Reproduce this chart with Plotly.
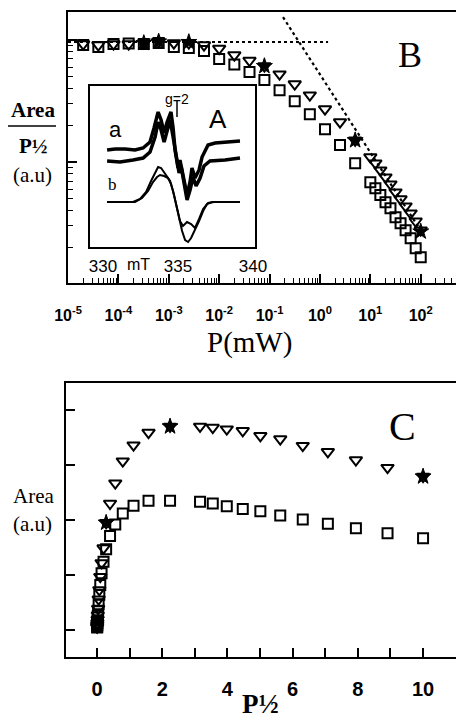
import plotly.graph_objects as go

# ---------------- Panel B : Area / P^1/2 versus P (mW), log-log ----------------
P_mW = [2.0e-5, 4.0e-5, 8.0e-5, 1.6e-4, 3.2e-4, 6.3e-4, 1.26e-3, 2.5e-3, 5.0e-3, 1.0e-2,
        2.0e-2, 4.0e-2, 7.9e-2, 0.158, 0.316, 0.63, 1.26, 2.5, 5.0, 10.0,
        12.6, 15.8, 20.0, 25.1, 31.6, 39.8, 50.1, 63.1, 79.4, 100.0]
B_tri = [9.27, 9.10, 9.27, 9.27, 9.45, 9.72, 9.45, 9.45, 9.10, 8.52,
         7.54, 6.79, 6.12, 5.26, 4.36, 3.54, 2.72, 2.13, 1.51, 1.10,
         0.98, 0.86, 0.753, 0.660, 0.568, 0.498, 0.436, 0.382, 0.328, 0.277]
B_sq = [9.10, 8.76, 9.27, 9.36, 9.27, 9.45, 8.76, 8.60, 8.13, 6.99,
        6.30, 5.47, 4.70, 3.89, 3.16, 2.47, 1.86, 1.38, 0.98, 0.685,
        0.612, 0.537, 0.470, 0.420, 0.354, 0.316, 0.277, 0.238, 0.197, 0.166]
B_star_P = [3.2e-4, 6.3e-4, 2.5e-3, 7.9e-2, 5.0, 100.0]
B_star = [9.45, 9.72, 9.63, 6.12, 1.51, 0.27]
# dotted guide lines
hline_P = [1.0e-5, 1.45]
hline_v = [9.63, 9.63]
sline_P = [0.185, 105.0]
sline_v = [15.4, 0.267]
B_decades = [-5, -4, -3, -2, -1, 0, 1, 2]
B_xlabels = ["10<sup>-5</sup>", "10<sup>-4</sup>", "10<sup>-3</sup>", "10<sup>-2</sup>",
             "10<sup>-1</sup>", "10<sup>0</sup>", "10<sup>1</sup>", "10<sup>2</sup>"]

# ---------------- Panel C : Area versus P^1/2 ----------------
sqrtP = [0.0045, 0.0063, 0.0089, 0.0126, 0.018, 0.025, 0.035, 0.050, 0.071, 0.10,
         0.14, 0.20, 0.28, 0.40, 0.56, 0.79, 1.12, 1.58, 2.24, 3.16,
         3.55, 3.98, 4.47, 5.01, 5.62, 6.31, 7.08, 7.94, 8.91, 10.0]
C_tri = [0.05, 0.07, 0.10, 0.13, 0.19, 0.27, 0.39, 0.56, 0.73, 0.97,
         1.22, 1.49, 1.95, 2.30, 2.67, 3.07, 3.36, 3.59, 3.70, 3.70,
         3.68, 3.65, 3.62, 3.53, 3.47, 3.35, 3.24, 3.09, 2.95, 2.79]
C_sq = [0.045, 0.06, 0.09, 0.13, 0.18, 0.26, 0.34, 0.47, 0.64, 0.82,
        1.03, 1.24, 1.47, 1.71, 1.92, 2.12, 2.26, 2.35, 2.35, 2.33,
        2.30, 2.25, 2.20, 2.16, 2.08, 2.01, 1.93, 1.85, 1.76, 1.67]
C_star_x = [0.28, 2.24, 10.0]
C_star = [1.95, 3.70, 2.79]

# ---------------- Inset A : EPR spectra (field in mT) ----------------
a1_B = [330.27, 330.8, 331.47, 332.13, 332.67, 333.13, 333.4, 333.67, 333.87, 334.07,
        334.27, 334.53, 334.67, 334.8, 335.0, 335.13, 335.33, 335.6, 335.8, 335.93,
        336.13, 336.4, 336.6, 337.0, 337.47, 338.13, 339.13]
a1_I = [97, 98, 98, 97, 99, 105, 119, 135, 127, 114,
        125, 135, 119, 97, 79, 87, 72, 52, 65, 79,
        69, 77, 90, 102, 104, 105, 106]
a2_B = [330.27, 331.13, 332.0, 332.67, 333.13, 333.47, 333.67, 333.87, 334.07, 334.27,
        334.47, 334.67, 334.87, 335.07, 335.2, 335.4, 335.6, 335.8, 336.0, 336.2,
        336.47, 336.73, 337.13, 338.13, 339.13]
a2_I = [86, 85, 87, 89, 95, 110, 125, 117, 105, 115,
        127, 110, 89, 74, 81, 65, 47, 57, 70, 61,
        69, 81, 86, 87, 89]
b1_B = [330.27, 332.0, 332.47, 332.87, 333.2, 333.47, 333.67, 333.87, 334.07, 334.27,
        334.47, 334.67, 334.87, 335.07, 335.27, 335.47, 335.67, 335.87, 336.13, 336.4,
        336.67, 336.93, 337.27, 339.13]
b1_I = [45, 45, 48, 55, 66, 75, 80, 79, 75, 71,
        66, 56, 43, 29, 16, 7, 5, 9, 17, 26,
        36, 43, 45, 45]
b2_B = [330.27, 332.13, 332.6, 333.0, 333.33, 333.6, 333.8, 334.07, 334.33, 334.53,
        334.73, 334.93, 335.13, 335.33, 335.6, 335.87, 336.13, 336.4, 336.67, 337.0,
        337.4, 339.13]
b2_I = [45, 45, 49, 56, 65, 70, 72, 71, 69, 63,
        52, 39, 26, 21, 25, 23, 19, 28, 38, 44,
        45, 45]
g2_field = 334.93
inset_ticks = [330, 335, 340]

W, H = 456, 719
SERIF = "Liberation Serif"
SANS = "Liberation Sans"


def px(v):
    return v / W


def py(v):
    return 1 - v / H


# minor tick positions for the log axes
x_minor = [m * 10.0 ** d for d in range(-5, 3) for m in range(2, 10) if m * 10.0 ** d <= 500]
y_minor = [m * 10.0 ** d for d in (-1, 0, 1) for m in range(2, 10) if m * 10.0 ** d <= 17]

fig = go.Figure()

sq_marker = dict(symbol="square-open", size=10, color="black", line=dict(width=2, color="black"))
tri_marker = dict(symbol="triangle-down-open", size=11, color="black", line=dict(width=2, color="black"))
star_marker = dict(symbol="star", size=12, color="black", line=dict(width=1, color="black"))

# Panel B
fig.add_trace(go.Scatter(x=hline_P, y=hline_v, mode="lines",
                         line=dict(color="black", width=2, dash="dot"), xaxis="x", yaxis="y"))
fig.add_trace(go.Scatter(x=sline_P, y=sline_v, mode="lines",
                         line=dict(color="black", width=2.2, dash="dot"), xaxis="x", yaxis="y"))
fig.add_trace(go.Scatter(x=P_mW, y=B_sq, mode="markers", marker=sq_marker, xaxis="x", yaxis="y"))
fig.add_trace(go.Scatter(x=P_mW, y=B_tri, mode="markers", marker=tri_marker, xaxis="x", yaxis="y"))
fig.add_trace(go.Scatter(x=B_star_P, y=B_star, mode="markers", marker=star_marker, xaxis="x", yaxis="y"))

# Panel C
fig.add_trace(go.Scatter(x=sqrtP, y=C_sq, mode="markers", marker=sq_marker, xaxis="x2", yaxis="y2"))
fig.add_trace(go.Scatter(x=sqrtP, y=C_tri, mode="markers", marker=tri_marker, xaxis="x2", yaxis="y2"))
fig.add_trace(go.Scatter(x=C_star_x, y=C_star, mode="markers", marker=star_marker, xaxis="x2", yaxis="y2"))

# Inset A
for xb, yi, w in [(a1_B, a1_I, 3.5), (a2_B, a2_I, 3.5), (b1_B, b1_I, 2), (b2_B, b2_I, 2)]:
    fig.add_trace(go.Scatter(x=xb, y=yi, mode="lines", line=dict(color="black", width=w),
                             xaxis="x3", yaxis="y3"))

axis_common = dict(showgrid=False, zeroline=False, showline=True, linecolor="black",
                   linewidth=2, ticks="inside", tickcolor="black", automargin=False)

fig.update_layout(
    width=W, height=H, autosize=False, margin=dict(l=0, r=0, t=0, b=0),
    paper_bgcolor="white", plot_bgcolor="white", showlegend=False,
    # panel B main axes carry the minor ticks
    xaxis=dict(**axis_common, type="log", domain=[px(68), 1], range=[-5.0, 2.7], anchor="y",
               mirror=True, tickvals=x_minor, ticklen=5, tickwidth=1, showticklabels=False),
    yaxis=dict(**axis_common, type="log", domain=[py(283), py(12)], range=[-0.99, 1.23], anchor="x",
               mirror=False, tickvals=y_minor, ticklen=5, tickwidth=1, showticklabels=False),
    # overlay axes with the decade ticks and labels
    xaxis4=dict(showgrid=False, zeroline=False, showline=False, type="log", overlaying="x",
                anchor="y", side="bottom", range=[-5.0, 2.7], ticks="inside", ticklen=9,
                tickwidth=1.5, tickcolor="black", tickvals=[10.0 ** d for d in B_decades],
                ticktext=B_xlabels, ticklabelstandoff=21, automargin=False,
                tickfont=dict(family=SANS, size=16, color="black", weight="bold")),
    yaxis4=dict(showgrid=False, zeroline=False, showline=False, type="log", overlaying="y",
                anchor="x", side="left", range=[-0.99, 1.23], ticks="inside", ticklen=9,
                tickwidth=1.5, tickcolor="black", tickvals=[0.1, 1, 10], showticklabels=False,
                automargin=False),
    xaxis2=dict(**axis_common, domain=[px(66), 1], range=[-0.951, 11.01], anchor="y2",
                mirror=True, dtick=2, tick0=0, ticklen=9, tickwidth=2,
                tickfont=dict(family=SANS, size=20, color="black", weight="bold"),
                ticklabelstandoff=13,
                minor=dict(ticks="inside", dtick=1, ticklen=9, tickwidth=2, tickcolor="black", showgrid=False)),
    yaxis2=dict(**axis_common, domain=[py(657), py(383)], range=[-0.49, 4.49], anchor="x2",
                mirror=False, tickvals=[0, 1, 2, 3, 4], ticklen=9, tickwidth=1.5, showticklabels=False),
    xaxis3=dict(showgrid=False, zeroline=False, showline=True, linecolor="black", linewidth=2,
                mirror=True, domain=[px(90), px(255)], range=[329.13, 340.13], anchor="y3",
                ticks="", tickvals=inset_ticks, ticktext=[str(t) for t in inset_ticks],
                tickfont=dict(family=SANS, size=17, color="black"), ticklabelstandoff=3,
                automargin=False),
    yaxis3=dict(showgrid=False, zeroline=False, showline=True, linecolor="black", linewidth=2,
                mirror=True, domain=[py(247), py(86)], range=[0, 161], anchor="x3",
                ticks="", showticklabels=False, automargin=False),
)

# invisible trace to activate the overlay axes
fig.add_trace(go.Scatter(x=[P_mW[0]], y=[B_sq[0]], mode="markers", marker=dict(opacity=0),
                         xaxis="x4", yaxis="y4", hoverinfo="skip"))

ann = []


def add_text(text, x, y, family, size, bold=False):
    ann.append(dict(text=text, x=px(x), y=py(y), xref="paper", yref="paper",
                    showarrow=False, xanchor="center", yanchor="middle",
                    font=dict(family=family, size=size, color="black",
                              weight="bold" if bold else "normal")))


add_text("B", 410, 55, SERIF, 36)
add_text("C", 402, 427, SERIF, 40)
add_text("A", 218, 119, SANS, 26)
add_text("a", 115, 130, SANS, 22)
add_text("b", 112, 184, SERIF, 17)
add_text("g=2", 177, 99, SANS, 14)
add_text("mT", 138, 264, SANS, 16)
add_text("Area", 33, 110, SERIF, 21, bold=True)
add_text("P½", 33, 146, SERIF, 21, bold=True)
add_text("(a.u)", 32, 175, SERIF, 21)
add_text("P(mW)", 249, 342, SERIF, 29)
add_text("Area", 33, 496, SERIF, 21)
add_text("(a.u)", 32, 524, SERIF, 21)
add_text("P½", 260, 704, SERIF, 27, bold=True)
fig.update_layout(annotations=ann)

fig.update_layout(shapes=[
    dict(type="line", xref="paper", yref="paper", x0=px(8), x1=px(56), y0=py(126), y1=py(126),
         line=dict(color="black", width=1.5)),
    dict(type="line", xref="x3", yref="y3", x0=g2_field, x1=g2_field, y0=130, y1=147,
         line=dict(color="black", width=1.5)),
])

fig.write_html("out.html")
